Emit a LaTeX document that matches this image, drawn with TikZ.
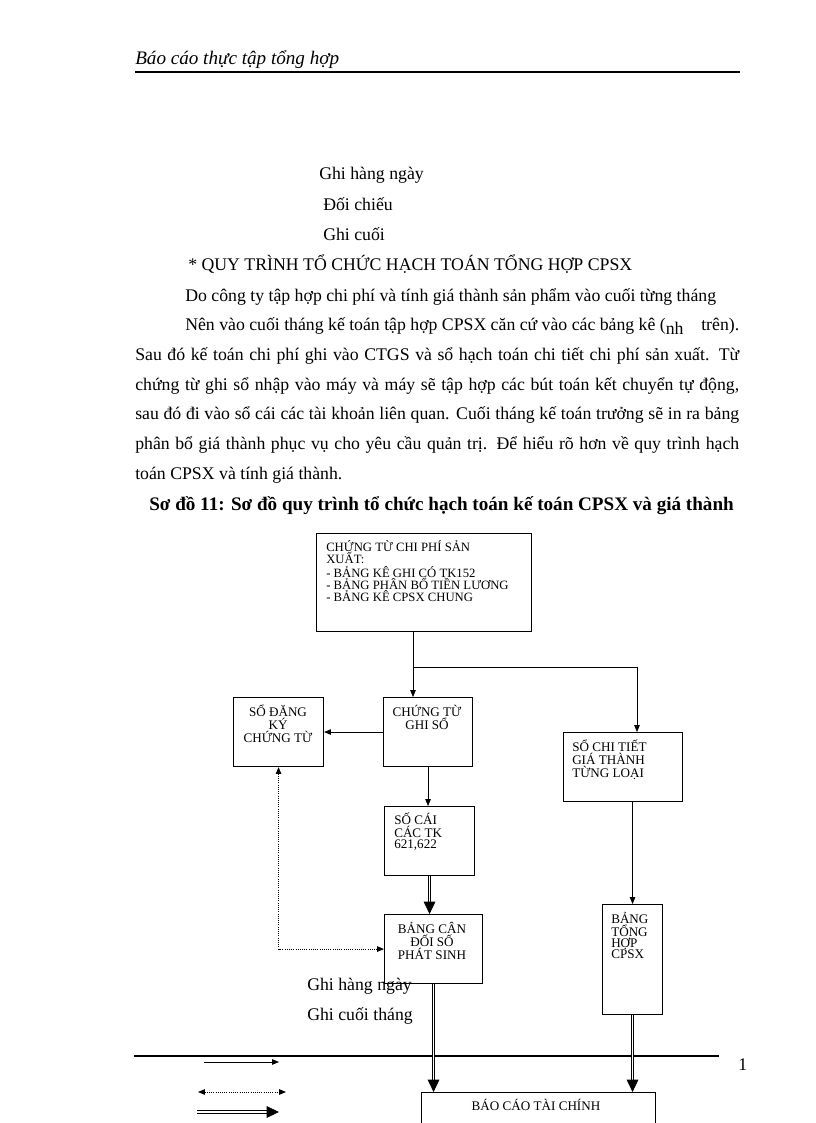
\documentclass[tikz,border=0pt]{standalone}
\usepackage{fontspec}
\setmainfont{Liberation Serif}
\usetikzlibrary{arrows.meta}
\newlength\pxl
\setlength\pxl{0.7322pt}

\begin{document}
\begin{tikzpicture}[x=0.25735mm,y=-0.25735mm,
  box/.style={draw,line width=0.8pt,inner sep=0pt,anchor=north west},
  boxtxt/.style={inner sep=0pt,align=left,font=\fontsize{9.6}{8.2}\selectfont},
  txt/.style={inner sep=0pt,anchor=base west,font=\fontsize{13}{15}\selectfont},
  arr/.style={line width=0.5pt,-{Triangle[length=5pt,width=4pt]}},
  dbl/.style={line width=0.6pt,double,double distance=1.2pt,-{Triangle[length=9pt,width=8.5pt]}},
  dots/.style={line width=0.6pt,densely dotted,{Triangle[length=5pt,width=4pt]}-{Triangle[length=5pt,width=4pt]}}]
  \useasboundingbox (0,0) rectangle (816,1123);
  % header
  \node[txt,font=\fontsize{14}{16}\selectfont\itshape] (hd) at (135,65) {Báo cáo thực tập tổng hợp};
  \draw[line width=1.4pt] (135,72) -- (740,72);
  % legend above the text
  \node[txt] (l1) at (319,180) {Ghi hàng ngày};
  \node[txt] (l2) at (323,210) {Đối chiếu};
  \node[txt] (l3) at (323,240) {Ghi cuối};
  \node[txt] (qt) at (188,270.5) {* QUY TRÌNH TỔ CHỨC HẠCH TOÁN TỔNG HỢP CPSX};
  % paragraph
  \node[txt] (p1) at (185,301) {Do công ty tập hợp chi phí và tính giá thành sản phẩm vào cuối từng tháng};
  \node[txt] (p2) at (185,330.5) {\makebox[554\pxl][s]{Nên vào cuối tháng kế toán tập hợp CPSX căn cứ vào các bảng kê (\raisebox{-3pt}{nh}\quad trên).}};
  \node[txt] (p3) at (135,360) {\makebox[604\pxl][s]{Sau đó kế toán chi phí ghi vào CTGS và sổ hạch toán chi tiết chi phí sản xuất. Từ}};
  \node[txt] (p4) at (135,390) {\makebox[604\pxl][s]{chứng từ ghi sổ nhập vào máy và máy sẽ tập hợp các bút toán kết chuyển tự động,}};
  \node[txt] (p5) at (135,419.5) {\makebox[604\pxl][s]{sau đó đi vào sổ cái các tài khoản liên quan. Cuối tháng kế toán trưởng sẽ in ra bảng}};
  \node[txt] (p6) at (135,449) {\makebox[604\pxl][s]{phân bổ giá thành phục vụ cho yêu cầu quản trị. Để hiểu rõ hơn về quy trình hạch}};
  \node[txt] (p7) at (135,479) {toán CPSX và tính giá thành.};
  \node[txt,font=\fontsize{14}{16}\selectfont\bfseries] (cp) at (149,510.5) {Sơ đồ 11: Sơ đồ quy trình tổ chức hạch toán kế toán CPSX và giá thành};

  % boxes
  \node[box,minimum width=215\pxl,minimum height=98\pxl] (ctcp) at (316,533) {};
  \node[boxtxt,anchor=north west,font=\fontsize{9.3}{8.2}\selectfont] (ctcp-t) at (326,540) {CHỨNG TỪ CHI PHÍ SẢN\\XUẤT:\\[1.5pt]- BẢNG KÊ GHI CÓ TK152\\- BẢNG PHÂN BỔ TIỀN LƯƠNG\\- BẢNG KÊ CPSX CHUNG};
  \node[box,minimum width=89\pxl,minimum height=69\pxl] (ctgs) at (383,697) {};
  \node[boxtxt,anchor=north,align=center] (ctgs-t) at (427,705) {CHỨNG TỪ\\GHI SỔ};
  \node[box,minimum width=90\pxl,minimum height=69\pxl] (sdk) at (233,697) {};
  \node[boxtxt,anchor=north,align=center] (sdk-t) at (278,705) {SỔ ĐĂNG\\KÝ\\CHỨNG TỪ};
  \node[box,minimum width=119\pxl,minimum height=69\pxl] (sct) at (563,732) {};
  \node[boxtxt,anchor=north west] (sct-t) at (572,740) {SỔ CHI TIẾT\\GIÁ THÀNH\\TỪNG LOẠI};
  \node[box,minimum width=90\pxl,minimum height=69\pxl] (sc) at (384,806) {};
  \node[boxtxt,anchor=north west] (sc-t) at (394,813) {SỐ CÁI\\CÁC TK\\621,622};
  \node[box,minimum width=98\pxl,minimum height=69\pxl] (bcd) at (384,914) {};
  \node[boxtxt,anchor=north,align=center] (bcd-t) at (432,922) {BẢNG CÂN\\ĐỐI SỐ\\PHÁT SINH};
  \node[box,minimum width=60\pxl,minimum height=110\pxl] (bth) at (602,904) {};
  \node[boxtxt,anchor=north west] (bth-t) at (611,912) {BẢNG\\TỔNG\\HỢP\\CPSX};
  \node[box,minimum width=234\pxl,minimum height=45\pxl] (bctc) at (421,1092) {};
  \node[boxtxt,anchor=base] (bctc-t) at (536,1110) {BÁO CÁO TÀI CHÍNH};

  % connectors
  \coordinate (br) at (413,667);
  \coordinate (bk) at (637,667);
  \draw[line width=0.5pt] (ctcp.south -| br) -- (br);
  \draw[arr] (br) -- (ctgs.north -| br);
  \draw[arr] (br) -- (bk) -- (sct.north -| bk);
  \draw[arr] (ctgs.west) -- (sdk.east);
  \draw[arr] (ctgs.south) -- (sc.north -| ctgs.south);
  \draw[dbl] (sc.south) -- (bcd.north -| sc.south);
  \draw[dots] (sdk.south) |- (bcd.west);
  \draw[arr] (sct.south -| bth.north) -- (bth.north);

  % bottom rule and legend
  \draw[line width=1.5pt] (134,1056) -- (719,1056);
  \node[txt] (pg) at (738,1070.7) {1};
  \node[txt] (g1) at (307,990.7) {Ghi hàng ngày};
  \node[txt] (g2) at (307,1020.7) {Ghi cuối tháng};
  \draw[dbl] (bcd.south) -- (bctc.north -| bcd.south);
  \draw[dbl] (bth.south) -- (bctc.north -| bth.south);
  \coordinate (a1) at (204,1062);
  \coordinate (a2) at (279,1062);
  \coordinate (b1) at (198,1092);
  \coordinate (b2) at (286,1092);
  \coordinate (c1) at (197,1112);
  \coordinate (c2) at (279,1112);
  \draw[arr] (a1) -- (a2);
  \draw[dots] (b1) -- (b2);
  \draw[dbl] (c1) -- (c2);
\end{tikzpicture}
\end{document}
